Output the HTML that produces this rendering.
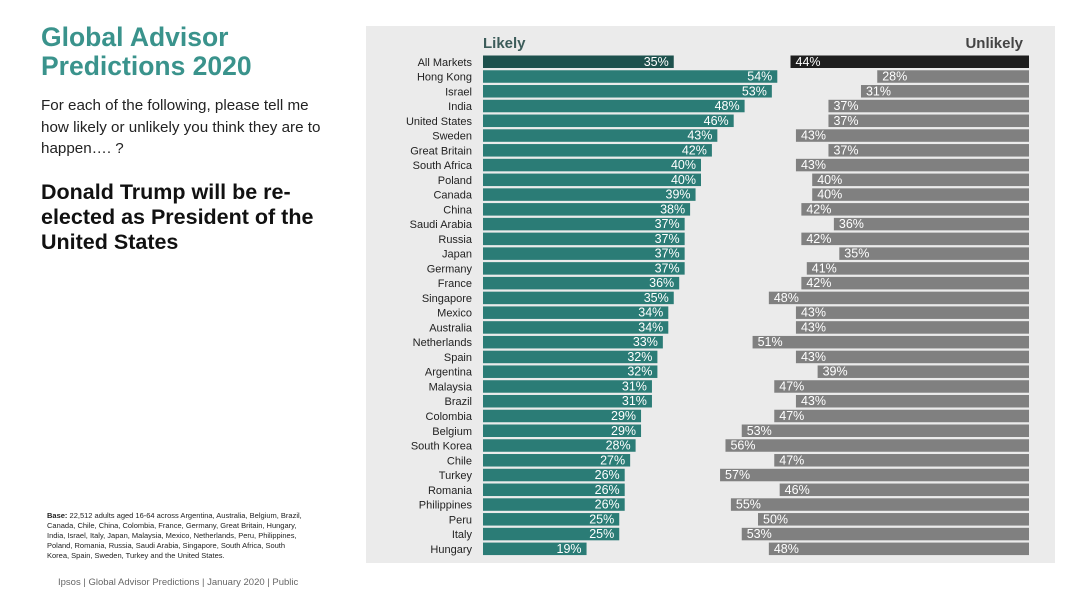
<!DOCTYPE html>
<html><head><meta charset="utf-8"><style>
body{margin:0;width:1080px;height:607px;background:#fff;font-family:"Liberation Sans",Arial,sans-serif;position:relative;overflow:hidden}
.a{position:absolute}
</style></head><body>
<div class="a" style="left:41px;top:23px;font-size:26.5px;font-weight:bold;color:#3a938c;line-height:29px">Global Advisor<br>Predictions 2020</div>
<div class="a" style="left:41px;top:95px;font-size:15.2px;line-height:21.5px;color:#222;width:292px">For each of the following, please tell me how likely or unlikely you think they are to happen…. ?</div>
<div class="a" style="left:41px;top:180px;font-size:21.5px;font-weight:bold;line-height:25px;color:#111;width:300px">Donald Trump will be re-elected as President of the United States</div>
<div class="a" style="left:47px;top:511px;font-size:7.5px;line-height:10px;color:#222;width:258px"><b>Base:</b> 22,512 adults aged 16-64 across Argentina, Australia, Belgium, Brazil, Canada, Chile, China, Colombia, France, Germany, Great Britain, Hungary, India, Israel, Italy, Japan, Malaysia, Mexico, Netherlands, Peru, Philippines, Poland, Romania, Russia, Saudi Arabia, Singapore, South Africa, South Korea, Spain, Sweden, Turkey and the United States.</div>
<div class="a" style="left:58px;top:577px;font-size:9.5px;color:#666">Ipsos | Global Advisor Predictions | January 2020 | Public</div>
<svg class="a" style="left:0;top:0" width="1080" height="607" id="chart">
<rect x="366" y="26" width="689" height="537" fill="#ebebeb"/>
<text x="483" y="48" font-size="15" font-weight="bold" fill="#3c5c5a">Likely</text>
<text x="1023" y="48" font-size="15" font-weight="bold" fill="#444" text-anchor="end">Unlikely</text>
</svg>
<script>
const countries=["All Markets","Hong Kong","Israel","India","United States","Sweden","Great Britain","South Africa","Poland","Canada","China","Saudi Arabia","Russia","Japan","Germany","France","Singapore","Mexico","Australia","Netherlands","Spain","Argentina","Malaysia","Brazil","Colombia","Belgium","South Korea","Chile","Turkey","Romania","Philippines","Peru","Italy","Hungary"];
const likely=[35,54,53,48,46,43,42,40,40,39,38,37,37,37,37,36,35,34,34,33,32,32,31,31,29,29,28,27,26,26,26,25,25,19];
const unlikely=[44,28,31,37,37,43,37,43,40,40,42,36,42,35,41,42,48,43,43,51,43,39,47,43,47,53,56,47,57,46,55,50,53,48];
const svg=document.getElementById('chart'),NS='http://www.w3.org/2000/svg';
const x0=483,xr=1029,sL=5.45,sU=5.42,y0=55.5,step=14.76,bh=12.5;
const yPos=i=>y0+i*step;
function mk(t,a){const e=document.createElementNS(NS,t);for(const k in a)e.setAttribute(k,a[k]);svg.appendChild(e);return e;}
countries.forEach((c,i)=>{
 const y=yPos(i),cy=y+bh/2+4;
 let t=mk('text',{x:472,y:cy,'font-size':11,fill:'#222','text-anchor':'end'});t.textContent=c;
 
 
 const w=likely[i]*sL;
 let r=mk('rect',{x:x0,y:y,width:w,height:bh,fill:i==0?'#1d514d':'#2b7c76'});
 
 
 t=mk('text',{x:x0+w-5,y:cy,'font-size':12.5,fill:'#fff','text-anchor':'end'});t.textContent=likely[i]+'%';
 
 
 const wu=unlikely[i]*sU;
 r=mk('rect',{x:xr-wu,y:y,width:wu,height:bh,fill:i==0?'#1e1e1e':'#808080'});
 
 
 t=mk('text',{x:xr-wu+5,y:cy,'font-size':12.5,fill:'#fff'});t.textContent=unlikely[i]+'%';
 
 
});
</script>
</body></html>
